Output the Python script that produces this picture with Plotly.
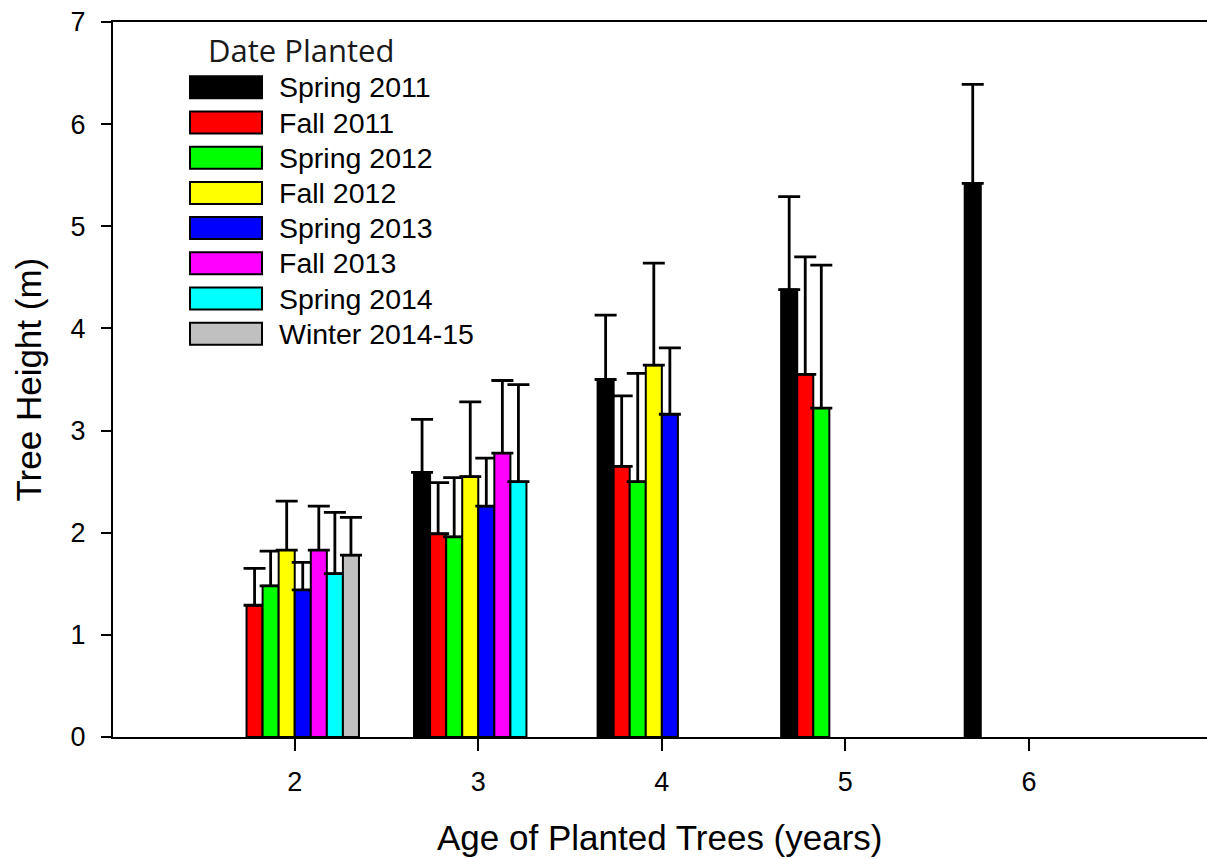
import plotly.graph_objects as go

# Tree age (years) on the x axis
ages = [2, 3, 4, 5, 6]

# Planting cohorts, drawn in this order within each age group
cohorts = ["Spring 2011", "Fall 2011", "Spring 2012", "Fall 2012",
           "Spring 2013", "Fall 2013", "Spring 2014", "Winter 2014-15"]
cohort_colors = ["#000000", "#FF0000", "#00FF00", "#FFFF00",
                 "#0000FF", "#FF00FF", "#00FFFF", "#C0C0C0"]

# Mean tree height (m) by age, one list per cohort (None = not yet measured)
spring_2011 = [None, 2.59, 3.50, 4.38, 5.42]
fall_2011 = [1.29, 1.99, 2.65, 3.55, None]
spring_2012 = [1.48, 1.96, 2.50, 3.22, None]
fall_2012 = [1.83, 2.55, 3.64, None, None]
spring_2013 = [1.44, 2.26, 3.16, None, None]
fall_2013 = [1.83, 2.78, None, None, None]
spring_2014 = [1.60, 2.50, None, None, None]
winter_2014_15 = [1.78, None, None, None, None]

# Upper error (m) for each mean
spring_2011_err = [None, 0.52, 0.63, 0.91, 0.97]
fall_2011_err = [0.36, 0.50, 0.69, 1.15, None]
spring_2012_err = [0.34, 0.58, 1.06, 1.40, None]
fall_2012_err = [0.48, 0.73, 1.00, None, None]
spring_2013_err = [0.27, 0.47, 0.65, None, None]
fall_2013_err = [0.43, 0.71, None, None, None]
spring_2014_err = [0.60, 0.95, None, None, None]
winter_2014_15_err = [0.37, None, None, None, None]

heights = [spring_2011, fall_2011, spring_2012, fall_2012,
           spring_2013, fall_2013, spring_2014, winter_2014_15]
errors = [spring_2011_err, fall_2011_err, spring_2012_err, fall_2012_err,
          spring_2013_err, fall_2013_err, spring_2014_err, winter_2014_15_err]

# Figure geometry (pixels)
W, H = 1207, 859
ML, MR, MT, MB = 113, 0, 22, 122
PW, PH = W - ML - MR, H - MT - MB


def px_x(px):
    return (px - ML) / PW


def px_y(py):
    return (H - MB - py) / PH


fig = go.Figure()
for name, color, ys, errs in zip(cohorts, cohort_colors, heights, errors):
    fig.add_trace(go.Bar(
        x=ages, y=ys, name=name,
        marker=dict(color=color, line=dict(color="#000000", width=2)),
        error_y=dict(type="data", array=errs, symmetric=False,
                     arrayminus=[0 if v is not None else None for v in errs],
                     color="#000000", thickness=2.8, width=11),
        showlegend=False,
    ))

font_main = "Liberation Sans, Arial, sans-serif"

# Legend block: title, colour swatches and cohort names
shapes = []
annotations = [dict(
    text="Date Planted", xref="paper", yref="paper",
    x=px_x(206), y=px_y(50), xanchor="left", yanchor="middle",
    showarrow=False, font=dict(family="Open Sans", size=31, color="#1a1a1a"),
)]
row0, row_step = 87.3, 35.2
for i, (name, color) in enumerate(zip(cohorts, cohort_colors)):
    cy = row0 + row_step * i
    shapes.append(dict(
        type="rect", xref="paper", yref="paper",
        x0=px_x(190), x1=px_x(262), y0=px_y(cy - 11), y1=px_y(cy + 11),
        fillcolor=color, line=dict(color="#000000", width=2),
    ))
    annotations.append(dict(
        text=name, xref="paper", yref="paper",
        x=px_x(277), y=px_y(cy), xanchor="left", yanchor="middle",
        showarrow=False, font=dict(family=font_main, size=28.5, color="#000000"),
    ))

# Axis titles
annotations.append(dict(
    text="Age of Planted Trees (years)", xref="paper", yref="paper",
    x=0.5, y=px_y(838), xanchor="center", yanchor="middle", showarrow=False,
    font=dict(family=font_main, size=35, color="#000000"),
))
annotations.append(dict(
    text="Tree Height (m)", xref="paper", yref="paper",
    x=px_x(28), y=0.5, xanchor="center", yanchor="middle", showarrow=False,
    textangle=-90, font=dict(family=font_main, size=35, color="#000000"),
))

fig.update_layout(
    width=W, height=H,
    margin=dict(l=ML, r=MR, t=MT, b=MB, pad=0),
    paper_bgcolor="#FFFFFF", plot_bgcolor="#FFFFFF",
    barmode="group", bargap=0.30, bargroupgap=0.0,
    font=dict(family=font_main, size=27, color="#000000"),
    shapes=shapes, annotations=annotations,
    xaxis=dict(
        range=[1.01, 6.97], tickvals=ages, ticktext=[str(a) for a in ages],
        showgrid=False, zeroline=False,
        showline=True, linecolor="#000000", linewidth=2, mirror=True,
        ticks="outside", ticklen=12, tickwidth=2, tickcolor="#000000",
        ticklabelstandoff=8,
        tickfont=dict(family=font_main, size=27, color="#000000"),
    ),
    yaxis=dict(
        range=[0, 7], tickvals=[0, 1, 2, 3, 4, 5, 6, 7],
        showgrid=False, zeroline=False,
        showline=True, linecolor="#000000", linewidth=2,
        ticks="outside", ticklen=10, tickwidth=2, tickcolor="#000000",
        ticklabelstandoff=10,
        tickfont=dict(family=font_main, size=27, color="#000000"),
    ),
)

fig.write_html("out.html")
